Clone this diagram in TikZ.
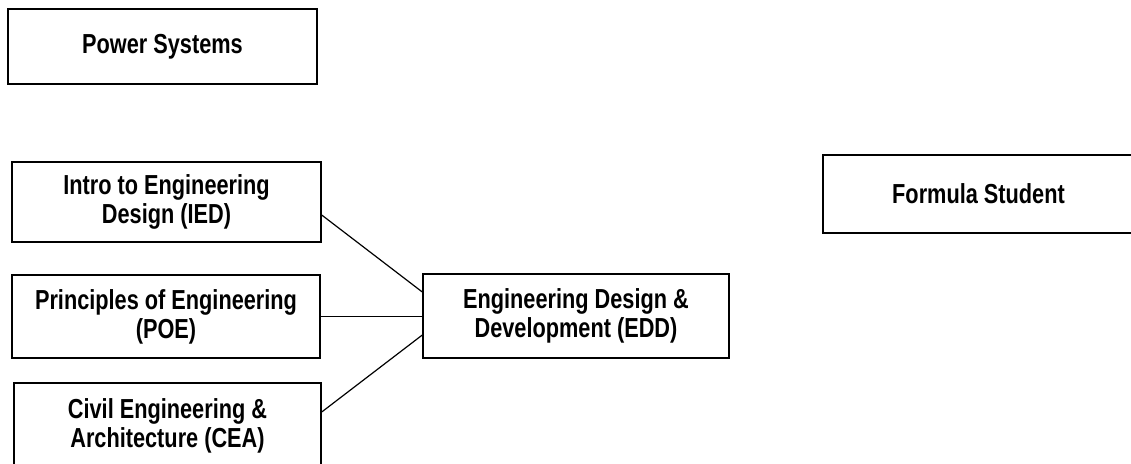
\documentclass[tikz,border=0pt]{standalone}
\usepackage{fontspec}
\setmainfont{Liberation Sans}[FakeStretch=0.79]
\begin{document}
\begin{tikzpicture}[x=1pt,y=-1pt,
  box/.style={draw, line width=1.4pt, rectangle, align=center, inner sep=0pt,
    font=\fontsize{27.5}{29}\selectfont\bfseries},
  link/.style={line width=1.2pt}]
\useasboundingbox (0,0) rectangle (1131,463);
\clip (0,0) rectangle (1131,463);
\node[box, minimum width=309pt, minimum height=75pt] (power) at (162.5,46.5) {Power Systems};
\node[box, minimum width=309pt, minimum height=80pt] (intro) at (166.5,202) {Intro to Engineering\\Design (IED)};
\node[box, minimum width=308pt, minimum height=83pt] (poe) at (166,316.5) {Principles of Engineering\\(POE)};
\node[box, minimum width=307pt, minimum height=85pt] (cea) at (167.5,425.5) {Civil Engineering \&\\Architecture (CEA)};
\node[box, minimum width=306pt, minimum height=84pt] (edd) at (576,316) {Engineering Design \&\\Development (EDD)};
\node[box, minimum width=311pt, minimum height=78pt] (fs) at (978.5,194) {Formula Student};
\draw[link] ([yshift=-13pt]intro.east) -- ([yshift=24pt]edd.west);
\draw[link] (poe.east) -- (poe.east -| edd.west);
\draw[link] ([yshift=13.5pt]cea.east) -- ([yshift=-19pt]edd.west);
\end{tikzpicture}
\end{document}
